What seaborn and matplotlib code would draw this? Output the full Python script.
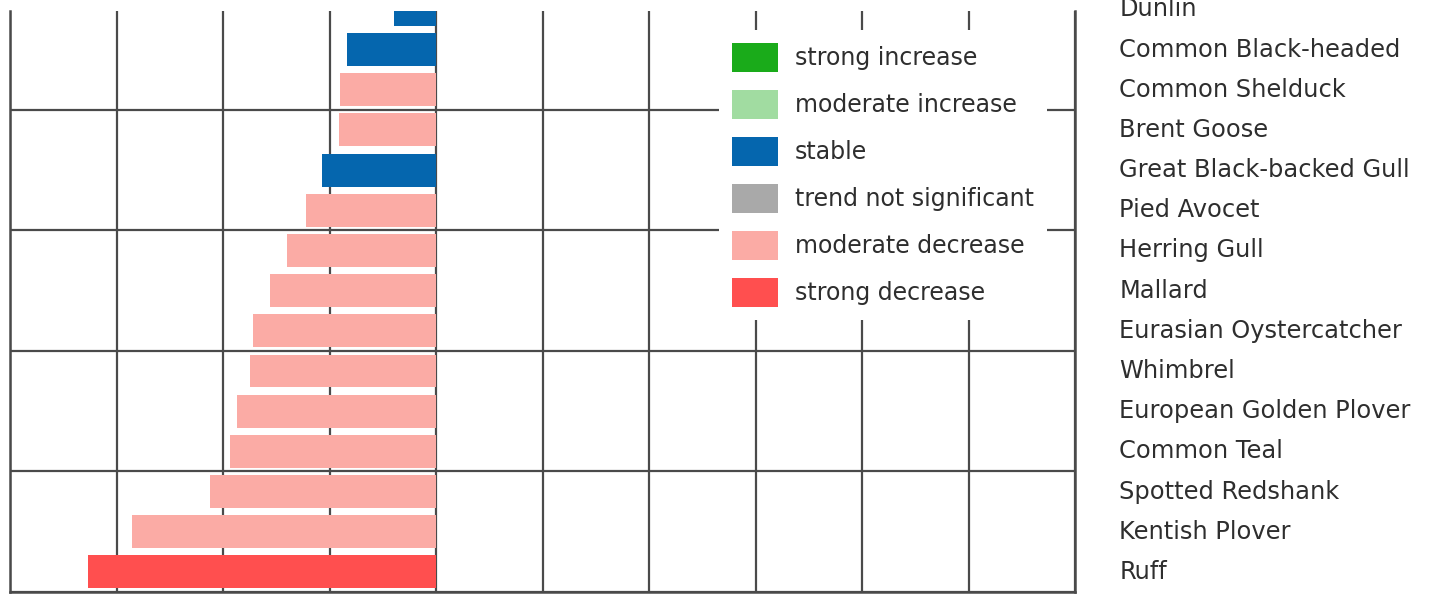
import numpy as np
import pandas as pd
import matplotlib.pyplot as plt
import seaborn as sns
from matplotlib.patches import Patch

# species, top to bottom (Dunlin is cut off by the top of the frame)
species = ["Dunlin", "Common Black-headed", "Common Shelduck", "Brent Goose",
           "Great Black-backed Gull", "Pied Avocet", "Herring Gull", "Mallard",
           "Eurasian Oystercatcher", "Whimbrel", "European Golden Plover",
           "Common Teal", "Spotted Redshank", "Kentish Plover", "Ruff"]
# trend, % per year
trend_pct = [-0.78, -1.68, -1.80, -1.82, -2.14, -2.44, -2.80, -3.12,
             -3.44, -3.50, -3.74, -3.86, -4.24, -5.70, -6.54]
trend_class = ["stable", "stable", "moderate decrease", "moderate decrease",
               "stable", "moderate decrease", "moderate decrease", "moderate decrease",
               "moderate decrease", "moderate decrease", "moderate decrease",
               "moderate decrease", "moderate decrease", "moderate decrease",
               "strong decrease"]

legend_classes = ["strong increase", "moderate increase", "stable",
                  "trend not significant", "moderate decrease", "strong decrease"]
class_colors = ["#1aab1a", "#a1dca1", "#0566ae", "#a9a9a9", "#fbaba5", "#ff4f4f"]
palette = dict(zip(legend_classes, class_colors))

df = pd.DataFrame({"species": species, "trend": trend_pct, "cls": trend_class})

sns.set_style("white")
plt.rcParams["font.family"] = ["DejaVu Sans"]
text_col = "#2e2e2e"
line_col = "#4a4a4a"

W, H = 1429, 594
fig = plt.figure(figsize=(W / 100, H / 100), dpi=100)
ax = fig.add_axes([10 / W, 2 / H, 1065 / W, 581 / H])

sns.barplot(data=df, x="trend", y="species", hue="cls", palette=palette,
            dodge=False, legend=False, width=0.82, linewidth=0, orient="h",
            order=species, saturation=1, ax=ax)

ax.set_xticks(np.arange(-8, 13, 2))
ax.set_yticks(np.arange(-0.5, 15, 3), minor=True)
ax.set_xlim(-8, 12)
ax.set_ylim(14.5, 0.04)
ax.set_axisbelow(True)
ax.grid(axis="x", which="major", color=line_col, lw=1.6)
ax.grid(axis="y", which="minor", color=line_col, lw=1.6)
ax.grid(axis="y", which="major", visible=False)

ax.tick_params(axis="x", length=0, labelbottom=False)
ax.tick_params(axis="y", which="both", length=0)
ax.yaxis.tick_right()
ax.tick_params(axis="y", pad=32, labelsize=17.4, labelcolor=text_col)
for lab in ax.get_yticklabels():
    lab.set_horizontalalignment("left")
    lab.set_verticalalignment("center")
ax.set_xlabel("")
ax.set_ylabel("")

for side in ["left", "bottom", "right"]:
    ax.spines[side].set_color(line_col)
    ax.spines[side].set_linewidth(1.8)
ax.spines["top"].set_visible(False)

# first label sits above the cropped frame
ax.text(1 + 45 / 1065, 0, species[0], transform=ax.get_yaxis_transform(),
        ha="left", va="center", fontsize=17.4, color=text_col, clip_on=False)

handles = [Patch(facecolor=c, edgecolor="none", label=l)
           for l, c in zip(legend_classes, class_colors)]
leg = ax.legend(handles=handles, loc="upper left",
                bbox_to_anchor=(719 / W, 1 - 30 / H), bbox_transform=fig.transFigure,
                fontsize=17, frameon=True, facecolor="white", edgecolor="none",
                framealpha=1, fancybox=False, borderpad=0.55, borderaxespad=0,
                handlelength=1.95, handleheight=1.5, handletextpad=0.72,
                labelspacing=0.77)
for t in leg.get_texts():
    t.set_color(text_col)

fig.savefig("out.png", dpi=100)
